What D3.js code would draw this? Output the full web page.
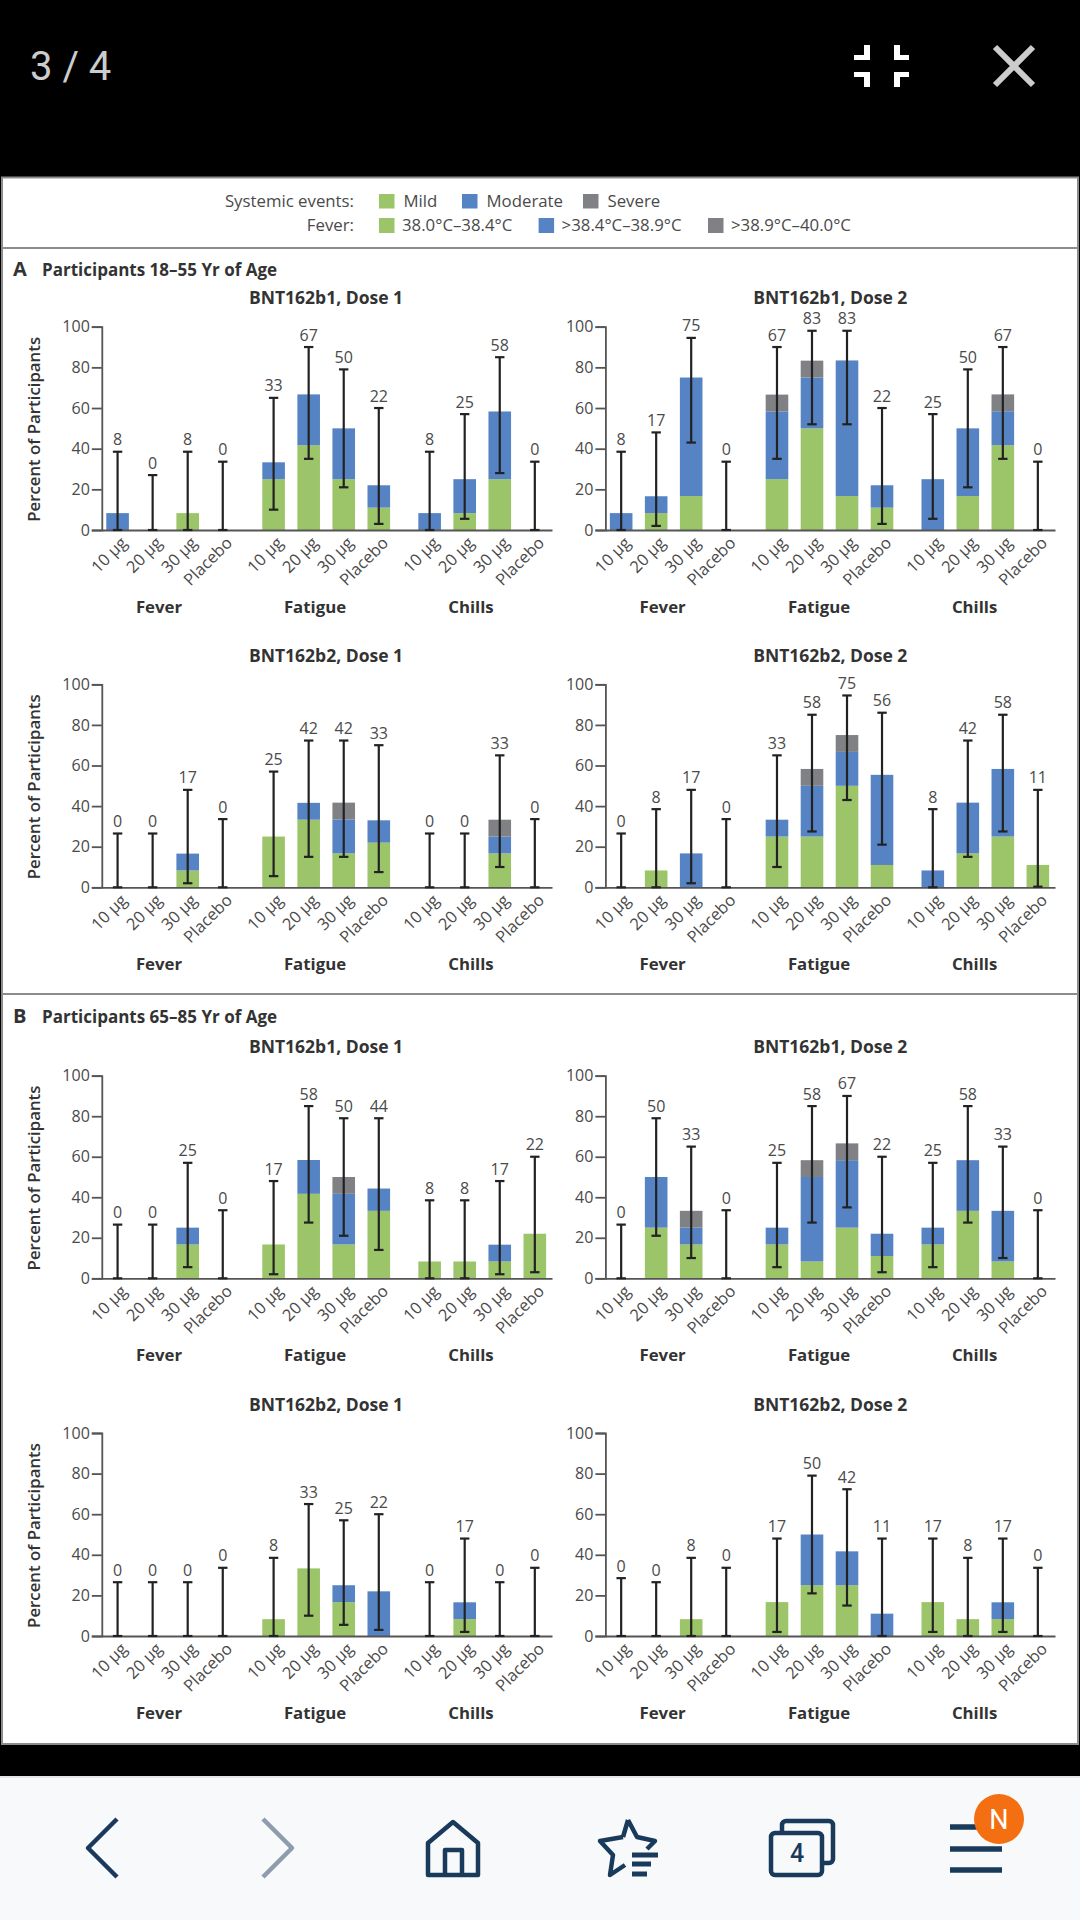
<!DOCTYPE html>
<html><head><meta charset="utf-8">
<script src="https://cdn.jsdelivr.net/npm/d3@7/dist/d3.min.js"></script>
<style>
html,body{margin:0;padding:0;background:#000;}
svg{display:block;}
text{font-family:"Open Sans",sans-serif;}
</style></head><body>
<svg id="c" width="1080" height="1920"></svg>
<script>
// ---------- categories ----------
const groups = ["Fever","Fatigue","Chills"];
const doses = ["10 μg","20 μg","30 μg","Placebo"];
const yTicks = [0,20,40,60,80,100];
const severityKeys = ["mild","moderate","severe"];

// ---------- Panel A: 18–55 yr, BNT162b1 Dose 1 ----------
const a1Mild  = [0,0,8.3,0,   25,41.7,25,11,    0,8.3,25,0];
const a1Mod   = [8.3,0,0,0,   8.3,25,25,11,     8.3,16.7,33.3,0];
const a1Sev   = [0,0,0,0,     0,0,0,0,          0,0,0,0];
const a1Low   = [0,0,0,0,     10,35,21,3,       0,5.5,28,0];
const a1High  = [38.5,27,38.5,33.6, 65,90,79,60, 38.5,57,85,33.6];
const a1Label = [8,0,8,0,     33,67,50,22,      8,25,58,0];
// ---------- BNT162b1 Dose 2 ----------
const a2Mild  = [0,8.3,16.7,0,  25,50,16.7,11,  0,16.7,41.7,0];
const a2Mod   = [8.3,8.3,58.3,0, 33.3,25,66.7,11, 25,33.3,16.7,0];
const a2Sev   = [0,0,0,0,       8.3,8.3,0,0,    0,0,8.3,0];
const a2Low   = [0,2,43,0,      35,52,52,3,     5.5,21,35,0];
const a2High  = [38.5,48,94.5,33.6, 90,98,98,60, 57,79,90,33.6];
const a2Label = [8,17,75,0,     67,83,83,22,    25,50,67,0];
// ---------- BNT162b2 Dose 1 ----------
const a3Mild  = [0,0,8.3,0,     25,33.3,16.7,22, 0,0,16.7,0];
const a3Mod   = [0,0,8.3,0,     0,8.3,16.7,11,   0,0,8.3,0];
const a3Sev   = [0,0,0,0,       0,0,8.3,0,       0,0,8.3,0];
const a3Low   = [0,0,2,0,       5.5,15,15,7.5,   0,0,10,0];
const a3High  = [26.5,26.5,48,33.6, 57,72.3,72.3,70, 26.5,26.5,65,33.6];
const a3Label = [0,0,17,0,      25,42,42,33,     0,0,33,0];
// ---------- BNT162b2 Dose 2 ----------
const a4Mild  = [0,8.3,0,0,     25,25,50,11,     0,16.7,25,11];
const a4Mod   = [0,0,16.7,0,    8.3,25,16.7,44.4, 8.3,25,33.3,0];
const a4Sev   = [0,0,0,0,       0,8.3,8.3,0,     0,0,0,0];
const a4Low   = [0,0,2,0,       10,27.5,43,21,   0,15,27.5,0.3];
const a4High  = [26.5,38.5,48,33.6, 65,85,94.5,86, 38.5,72.3,85,48];
const a4Label = [0,8,17,0,      33,58,75,56,     8,42,58,11];

// ---------- Panel B: 65–85 yr, BNT162b1 Dose 1 ----------
const b1Mild  = [0,0,16.7,0,    16.7,41.7,16.7,33.3, 8.3,8.3,8.3,22];
const b1Mod   = [0,0,8.3,0,     0,16.7,25,11,        0,0,8.3,0];
const b1Sev   = [0,0,0,0,       0,0,8.3,0,           0,0,0,0];
const b1Low   = [0,0,5.5,0,     2,27.5,21,14,        0,0,2,3];
const b1High  = [26.5,26.5,57,33.6, 48,85,79,79, 38.5,38.5,48,60];
const b1Label = [0,0,25,0,      17,58,50,44,         8,8,17,22];
// ---------- BNT162b1 Dose 2 ----------
const b2Mild  = [0,25,16.7,0,   16.7,8.3,25,11,  16.7,33.3,8.3,0];
const b2Mod   = [0,25,8.3,0,    8.3,41.7,33.3,11, 8.3,25,25,0];
const b2Sev   = [0,0,8.3,0,     0,8.3,8.3,0,     0,0,0,0];
const b2Low   = [0,21,10,0,     5.5,27.5,35,3,   5.5,27.5,10,0];
const b2High  = [26.5,79,65,33.6, 57,85,90,60, 57,85,65,33.6];
const b2Label = [0,50,33,0,     25,58,67,22,     25,58,33,0];
// ---------- BNT162b2 Dose 1 ----------
const b3Mild  = [0,0,0,0,       8.3,33.3,16.7,0, 0,8.3,0,0];
const b3Mod   = [0,0,0,0,       0,0,8.3,22,      0,8.3,0,0];
const b3Sev   = [0,0,0,0,       0,0,0,0,         0,0,0,0];
const b3Low   = [0,0,0,0,       0,10,5.5,3,      0,2,0,0];
const b3High  = [26.5,26.5,26.5,33.6, 38.5,65,57,60, 26.5,48,26.5,33.6];
const b3Label = [0,0,0,0,       8,33,25,22,      0,17,0,0];
// ---------- BNT162b2 Dose 2 ----------
const b4Mild  = [0,0,8.3,0,     16.7,25,25,0,    16.7,8.3,8.3,0];
const b4Mod   = [0,0,0,0,       0,25,16.7,11,    0,0,8.3,0];
const b4Sev   = [0,0,0,0,       0,0,0,0,         0,0,0,0];
const b4Low   = [0,0,0,0,       2,21,15,0,       2,0,2,0];
const b4High  = [28.5,26.5,38.5,33.6, 48,79,72.3,48, 48,38.5,48,33.6];
const b4Label = [0,0,8,0,       17,50,42,11,     17,8,17,0];

// ---------- legend ----------
const legendRow1 = ["Mild","Moderate","Severe"];
const legendRow2 = ["38.0°C–38.4°C",">38.4°C–38.9°C",">38.9°C–40.0°C"];

// ---------- style + layout ----------
const colors = {mild:"#9CC56A",moderate:"#5683C3",severe:"#808184"};
const navy = "#1A3A5C";
const textCol = "#4a4a4a", boldCol = "#333";
const FS = 16.8, NUM = 16, XFS = 16.5;

const svg = d3.select("#c");
svg.append("rect").attr("width",1080).attr("height",1920).attr("fill","#000");

// figure frame
svg.append("rect").attr("x",2).attr("y",177.5).attr("width",1076).attr("height",1566.5)
   .attr("fill","#fff").attr("stroke","#8c8c8c").attr("stroke-width",2);
[248,994].forEach(y=>svg.append("line").attr("x1",2).attr("x2",1078).attr("y1",y).attr("y2",y)
   .attr("stroke","#8c8c8c").attr("stroke-width",2));

// legend
function txt(parent,x,y,s,o={}){
  const t=parent.append("text").attr("x",x).attr("y",y).text(s)
    .attr("font-size",o.size||FS).attr("fill",o.fill||textCol)
    .attr("font-weight",o.weight||400).attr("text-anchor",o.anchor||"start");
  if(o.family) t.attr("font-family",o.family).style("font-family",o.family);
  return t;
}
const leg = svg.append("g");
txt(leg,354,206.5,"Systemic events:",{anchor:"end"});
txt(leg,354,231,"Fever:",{anchor:"end"});
const legX1=[379,462,583], legX2=[379,538.6,708];
severityKeys.forEach((k,i)=>{
  leg.append("rect").attr("x",legX1[i]).attr("y",194).attr("width",15.5).attr("height",14.5).attr("fill",colors[k]);
  txt(leg,legX1[i]+24.5,206.5,legendRow1[i]);
  leg.append("rect").attr("x",legX2[i]).attr("y",218).attr("width",15.5).attr("height",15).attr("fill",colors[k]);
  txt(leg,legX2[i]+23,231,legendRow2[i]);
});

// section headings
txt(svg,13,276,"A",{size:20,weight:700,fill:"#333"});
txt(svg,42,275.5,"Participants 18–55 Yr of Age",{size:17,weight:700,fill:boldCol});
txt(svg,13,1023,"B",{size:20,weight:700,fill:"#333"});
txt(svg,42,1022.5,"Participants 65–85 Yr of Age",{size:17,weight:700,fill:boldCol});

const panels = [
 {t:"BNT162b1, Dose 1",col:0,y100:326.7,y0:530,  m:a1Mild,o:a1Mod,s:a1Sev,lo:a1Low,hi:a1High,l:a1Label},
 {t:"BNT162b1, Dose 2",col:1,y100:326.7,y0:530,  m:a2Mild,o:a2Mod,s:a2Sev,lo:a2Low,hi:a2High,l:a2Label},
 {t:"BNT162b2, Dose 1",col:0,y100:684.3,y0:887.3,m:a3Mild,o:a3Mod,s:a3Sev,lo:a3Low,hi:a3High,l:a3Label},
 {t:"BNT162b2, Dose 2",col:1,y100:684.3,y0:887.3,m:a4Mild,o:a4Mod,s:a4Sev,lo:a4Low,hi:a4High,l:a4Label},
 {t:"BNT162b1, Dose 1",col:0,y100:1075.7,y0:1278.3,m:b1Mild,o:b1Mod,s:b1Sev,lo:b1Low,hi:b1High,l:b1Label},
 {t:"BNT162b1, Dose 2",col:1,y100:1075.7,y0:1278.3,m:b2Mild,o:b2Mod,s:b2Sev,lo:b2Low,hi:b2High,l:b2Label},
 {t:"BNT162b2, Dose 1",col:0,y100:1433,y0:1636,m:b3Mild,o:b3Mod,s:b3Sev,lo:b3Low,hi:b3High,l:b3Label},
 {t:"BNT162b2, Dose 2",col:1,y100:1433,y0:1636,m:b4Mild,o:b4Mod,s:b4Sev,lo:b4Low,hi:b4High,l:b4Label},
];
const colRange = [[101.8,552],[605.4,1055]];
const titleX = [326,830.3];
const groupX = [[159,315,471],[662.6,819,974.6]];
const GROUP_STEP = 4.45;
const slot = i => Math.floor(i/4)*GROUP_STEP + i%4;

panels.forEach(p=>{
  const x = d3.scaleLinear().domain([-0.45,12.39]).range(colRange[p.col]);
  const y = d3.scaleLinear().domain([0,100]).range([p.y0,p.y100]);
  const g = svg.append("g");
  const rows = p.m.map((_,i)=>({i,mild:p.m[i],moderate:p.o[i],severe:p.s[i],lo:p.lo[i],hi:p.hi[i],label:p.l[i]}));
  const stacked = d3.stack().keys(severityKeys)(rows);
  const bw = 22.6;

  g.selectAll("g.layer").data(stacked).join("g").attr("class","layer")
   .attr("fill",d=>colors[d.key])
   .selectAll("rect").data(d=>d.filter(v=>v[1]>v[0])).join("rect")
   .attr("x",d=>x(slot(d.data.i))-bw/2).attr("width",bw)
   .attr("y",d=>y(d[1])).attr("height",d=>y(d[0])-y(d[1]));

  // y axis
  const ya = g.append("g").attr("transform",`translate(${colRange[p.col][0]},0)`)
    .call(d3.axisLeft(y).tickValues(yTicks).tickSize(10).tickPadding(2));
  ya.selectAll("path,line").attr("stroke","#555").attr("stroke-width",1.8);
  ya.selectAll("text").attr("font-size",NUM).attr("fill",textCol).style("font-family",'"Open Sans",sans-serif');
  // x axis
  const xa = g.append("g").attr("transform",`translate(0,${p.y0})`)
    .call(d3.axisBottom(x).tickValues(rows.map(r=>slot(r.i))).tickSize(0)
      .tickFormat((d,i)=>doses[i%4]));
  xa.select("path").attr("stroke","#555").attr("stroke-width",1.8);
  xa.selectAll("text").attr("font-size",XFS).attr("fill",textCol)
    .style("font-family",'"Open Sans",sans-serif')
    .attr("text-anchor","end").attr("dy",0).attr("y",0)
    .attr("transform","translate(10,14) rotate(-45)");

  // error bars
  const cap=4.7;
  const eb = g.append("g").attr("stroke","#222").attr("stroke-width",2.2).attr("fill","none");
  eb.selectAll("line.w").data(rows).join("line").attr("class","w")
    .attr("x1",d=>x(slot(d.i))).attr("x2",d=>x(slot(d.i))).attr("y1",d=>y(d.lo)).attr("y2",d=>y(d.hi));
  eb.selectAll("line.u").data(rows).join("line").attr("class","u")
    .attr("x1",d=>x(slot(d.i))-cap).attr("x2",d=>x(slot(d.i))+cap).attr("y1",d=>y(d.hi)).attr("y2",d=>y(d.hi));
  eb.selectAll("line.l").data(rows).join("line").attr("class","l")
    .attr("x1",d=>x(slot(d.i))-cap).attr("x2",d=>x(slot(d.i))+cap).attr("y1",d=>y(d.lo)).attr("y2",d=>y(d.lo));

  // value labels
  g.selectAll("text.v").data(rows).join("text").attr("class","v")
    .attr("x",d=>x(slot(d.i))).attr("y",d=>y(d.hi)-6.5).attr("text-anchor","middle")
    .attr("font-size",NUM).attr("fill",textCol).text(d=>d.label);

  // titles
  txt(g,titleX[p.col],p.y100-22.5,p.t,{size:17.5,weight:700,anchor:"middle",fill:boldCol});
  groups.forEach((n,i)=>txt(g,groupX[p.col][i],p.y0+83,n,{size:16.8,weight:700,anchor:"middle",fill:boldCol}));
  if(p.col===0){
    g.append("text").attr("transform",`translate(40,${(p.y0+p.y100)/2+1}) rotate(-90)`)
     .attr("text-anchor","middle").attr("font-size",16.8).attr("font-weight",600).attr("fill",boldCol)
     .text("Percent of Participants");
  }
});

// ---------- viewer chrome ----------
txt(svg,30,80,"3 / 4",{size:40,fill:"#ccc",family:"Roboto"});
const comp = svg.append("g").attr("fill","#fff");
[[864,45,6,15],[854,55,16,5],[894,45,6,15],[894,55,15,5],[854,72,16,5],[864,72,6,15],[894,72,15,5],[894,72,6,15]]
 .forEach(r=>comp.append("rect").attr("x",r[0]).attr("y",r[1]).attr("width",r[2]).attr("height",r[3]));
svg.append("path").attr("d","M995 47L1033 85M1033 47L995 85").attr("stroke","#ccc").attr("stroke-width",6).attr("fill","none");

// bottom nav
svg.append("rect").attr("y",1776).attr("width",1080).attr("height",144).attr("fill","#F8F9FA");
svg.append("rect").attr("y",1776).attr("width",1080).attr("height",2).attr("fill","#e6e6e6");
const nav = svg.append("g").attr("fill","none").attr("stroke",navy).attr("stroke-width",4.5).attr("stroke-linejoin","round");
nav.append("path").attr("d","M117 1819L88 1848L117 1877");
nav.append("path").attr("d","M263 1819L292 1848L263 1877").attr("stroke","#8E9DAD");
nav.append("path").attr("d","M428 1875V1843L453 1822L478 1843V1875Z");
nav.append("path").attr("d","M445 1875V1850H462V1875");
nav.append("path").attr("d","M628 1820L637 1837L655 1841L647 1849M623 1837L628 1820M623 1837L600 1841L613 1855L610 1875L625 1865");
[[632,658,1855],[632,651,1864],[632,647,1874]].forEach(l=>
  nav.append("line").attr("x1",l[0]).attr("x2",l[1]).attr("y1",l[2]).attr("y2",l[2]).attr("stroke-width",5));
nav.append("rect").attr("x",782).attr("y",1821).attr("width",51).attr("height",42).attr("rx",4);
nav.append("rect").attr("x",771).attr("y",1833).attr("width",51).attr("height",42).attr("rx",4).attr("fill","#F8F9FA");
txt(svg,797,1862,"4",{size:25,weight:500,anchor:"middle",fill:navy,family:"Roboto"});
[1827,1849,1870].forEach(y=>nav.append("line").attr("x1",950).attr("x2",1002).attr("y1",y).attr("y2",y).attr("stroke-width",5.5));
svg.append("circle").attr("cx",999).attr("cy",1819).attr("r",25).attr("fill","#F36F12");
txt(svg,999,1829,"N",{size:27,anchor:"middle",fill:"#fff",family:"Roboto"});
</script>
</body></html>
